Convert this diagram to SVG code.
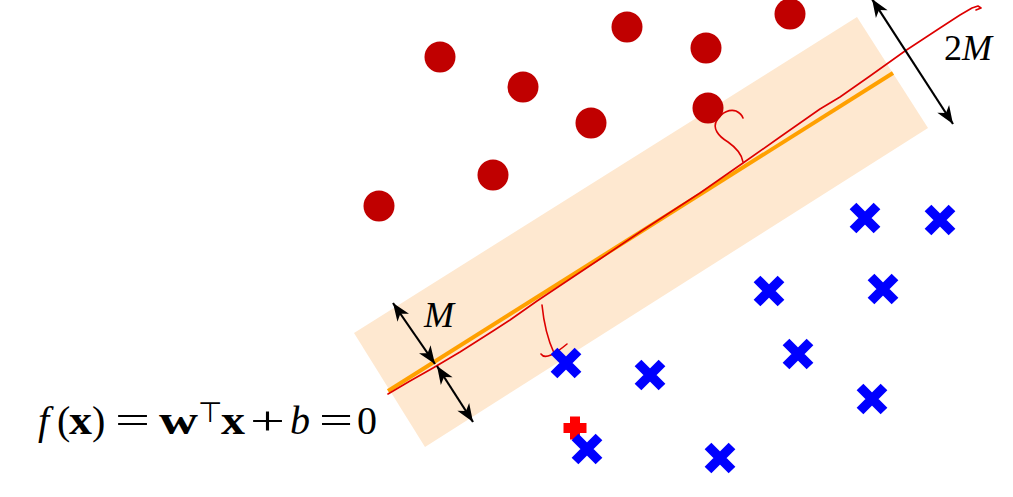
<svg xmlns="http://www.w3.org/2000/svg" width="1013" height="497" viewBox="0 0 1013 497">
<style>
.pos{fill:#c00000}
.neg{stroke:#0000ff;stroke-width:9.5;stroke-linecap:butt;fill:none}
.hand{stroke:#dd0000;stroke-width:1.6;fill:none;stroke-linecap:round;stroke-linejoin:round}
.arr{stroke:#000;stroke-width:2.2;fill:none}
.math{font-family:"Liberation Serif","DejaVu Serif",serif;fill:#000}
.f40{font-size:40px}
.it{font-style:italic}
.bf{font-weight:bold}
</style>
<defs>
<marker id="ah" viewBox="-19 -8 20 16" refX="0" refY="0" markerWidth="20" markerHeight="16" orient="auto-start-reverse" markerUnits="userSpaceOnUse">
<path d="M0,0 L-18,-7 L-13,0 L-18,7 Z" fill="#000"/>
</marker>
<g id="xmark"><path d="M-12,-12 L12,12 M12,-12 L-12,12" class="neg"/></g>
</defs>
<rect width="1013" height="497" fill="#fff"/>
<g id="margin-band">
<polygon points="354,333 857,17 928,128 425,447" fill="#fee8d0"/>
</g>
<g id="decision-boundary">
<line x1="388" y1="391" x2="893" y2="73" stroke="#ffa000" stroke-width="4"/>
</g>
<g id="hand-drawn" class="hand">
<polyline points="388,394 410,381 433,368 460,352 493,331 510,320 537,301 567,281 600,259 643,230 700,193 743,163 780,137 820,109 840,97 870,76 905,51 940,28 960,15 972,8 978,6 981,8 976,10"/>
<path d="M717,120 C712,128 718,136 728,142 C738,149 742,155 743,162"/>
<path d="M717,120 C722,112 730,109 736,111 C740,113 742,115 743,118"/>
<path d="M542,305 C544,325 548,340 554,353"/>
<path d="M541,354 C545,360 555,354 567,344"/>
</g>
<g id="positive-points">
<circle id="p1" class="pos" cx="440" cy="57" r="15.5"/>
<circle id="p2" class="pos" cx="627" cy="27" r="15.5"/>
<circle id="p3" class="pos" cx="790" cy="14" r="15.5"/>
<circle id="p4" class="pos" cx="706" cy="48" r="15.5"/>
<circle id="p5" class="pos" cx="523" cy="87" r="15.5"/>
<circle id="p6" class="pos" cx="591" cy="123" r="15.5"/>
<circle id="p7" class="pos" cx="708" cy="108" r="15.5"/>
<circle id="p8" class="pos" cx="493" cy="175" r="15.5"/>
<circle id="p9" class="pos" cx="379" cy="206" r="15.5"/>
</g>
<g id="negative-points">
<use id="n1" href="#xmark" x="865" y="218"/>
<use id="n2" href="#xmark" x="940" y="220"/>
<use id="n3" href="#xmark" x="769" y="291"/>
<use id="n4" href="#xmark" x="883" y="289"/>
<use id="n5" href="#xmark" x="798" y="354"/>
<use id="n6" href="#xmark" x="566" y="363"/>
<use id="n7" href="#xmark" x="650" y="375"/>
<use id="n8" href="#xmark" x="872" y="399"/>
<use id="n10" href="#xmark" x="720" y="458"/>
</g>
<g id="new-point">
<polygon points="570,416.5 580,416.5 580,423 586.5,423 586.5,433 580,433 580,439.5 570,439.5 570,433 563.5,433 563.5,423 570,423" fill="#ff0000"/>
</g>
<g id="negative-points-2">
<use id="n9" href="#xmark" x="587" y="449"/>
</g>
<g id="connectors">
<line class="arr" x1="872" y1="-1" x2="953" y2="124" marker-start="url(#ah)" marker-end="url(#ah)"/>
<line class="arr" x1="393" y1="303" x2="435" y2="364" marker-start="url(#ah)" marker-end="url(#ah)"/>
<line class="arr" x1="437" y1="366" x2="473" y2="422" marker-start="url(#ah)" marker-end="url(#ah)"/>
</g>
<g id="labels">
<text class="math it" x="424" y="327" font-size="36">M</text>
<text class="math" x="944" y="60" font-size="36"><tspan>2</tspan><tspan font-style="italic">M</tspan></text>
<g id="formula" class="math f40">
<text x="38" y="434" class="it">f</text>
<text x="57" y="434">(</text>
<text x="69" y="434" class="bf" textLength="23" lengthAdjust="spacingAndGlyphs">x</text>
<text x="92" y="434">)</text>
<text x="115" y="434" textLength="35" lengthAdjust="spacingAndGlyphs">=</text>
<text x="159" y="434" class="bf" textLength="39" lengthAdjust="spacingAndGlyphs">w</text>
<text x="198" y="422" font-size="28" font-family="DejaVu Sans, sans-serif">⊤</text>
<text x="221" y="434" class="bf" textLength="24" lengthAdjust="spacingAndGlyphs">x</text>
<text x="250" y="434" textLength="35" lengthAdjust="spacingAndGlyphs">+</text>
<text x="290" y="434" class="it">b</text>
<text x="319" y="434" textLength="34" lengthAdjust="spacingAndGlyphs">=</text>
<text x="357" y="434">0</text>
</g>
</g>
</svg>
